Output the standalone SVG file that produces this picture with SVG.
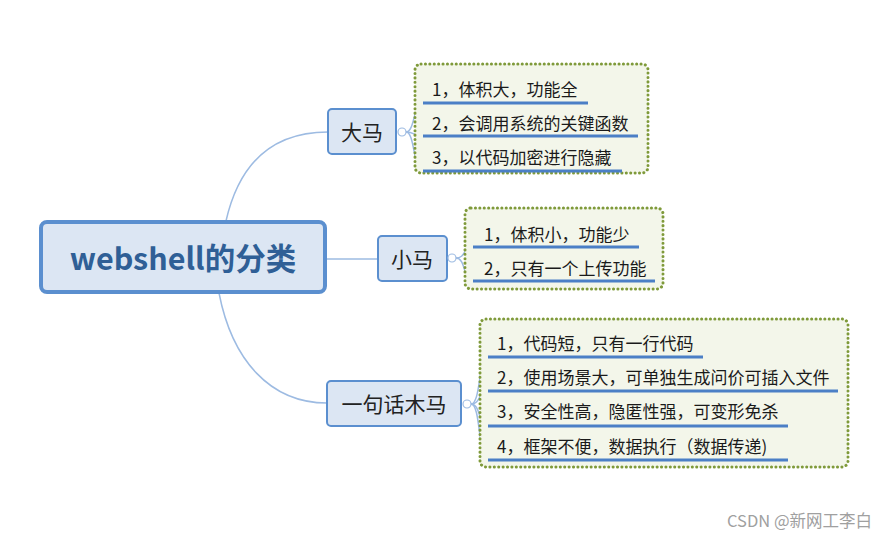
<svg xmlns="http://www.w3.org/2000/svg" width="883" height="552" viewBox="0 0 883 552">
<style>
.bg{fill:#ffffff}
.node{fill:#dce6f3;stroke:#5b8fcf;stroke-width:2}
.root{fill:#dce6f3;stroke:#5b8fcf;stroke-width:4}
.ntext{font-family:"Noto Sans CJK SC","Microsoft YaHei",sans-serif;font-size:21px;fill:#222;text-anchor:middle;dominant-baseline:central}
.rtext{font-family:"Noto Sans CJK SC",sans-serif;font-size:30.5px;font-weight:bold;fill:#2f5f96;text-anchor:middle;dominant-baseline:central}
.group{fill:#f3f6ea;stroke:#7f9a3a;stroke-width:3;stroke-dasharray:0.1 4.3;stroke-linecap:round}
.itext{font-family:"Noto Sans CJK SC",sans-serif;font-size:17px;fill:#1a1a1a;dominant-baseline:central}
.ul{stroke:#4b7fc6;stroke-width:3;fill:none}
.conn{fill:none;stroke:#9dbbe2;stroke-width:1.5}
.knob{fill:#ffffff;stroke:#9dbbe2;stroke-width:1.2}
.wm{font-family:"Noto Sans CJK SC",sans-serif;font-size:16.5px;fill:#a0a0a0}
</style>
<rect class="bg" x="0" y="0" width="883" height="552"/>
<g id="connectors">
<path class="conn" d="M226,221 C240,160 275,132 328,132"/>
<path class="conn" d="M326,259 L378,259"/>
<path class="conn" d="M219,293 C232,360 270,403 327,403"/>
<path class="conn" d="M406,132 C415,132 413,103 423,103"/>
<path class="conn" d="M406,132 C415,132 413,136 423,136"/>
<path class="conn" d="M406,132 C415,132 413,171 423,171"/>
<path class="conn" d="M456,258 C466,258 463,247 473,247"/>
<path class="conn" d="M456,258 C466,258 463,281 473,281"/>
<path class="conn" d="M471,404 C481,404 478,357 488,357"/>
<path class="conn" d="M471,404 C481,404 478,391 488,391"/>
<path class="conn" d="M471,404 C481,404 478,426 488,426"/>
<path class="conn" d="M471,404 C481,404 478,460 488,460"/>
</g>
<g id="root">
<rect class="root" x="41" y="222" width="284" height="70" rx="6"/>
<text class="rtext" x="183" y="257">webshell的分类</text>
</g>
<g id="dama">
<rect class="node" x="328" y="109" width="68" height="45" rx="4"/>
<text class="ntext" x="362" y="131">大马</text>
<circle class="knob" cx="402" cy="132" r="4"/>
</g>
<g id="xiaoma">
<rect class="node" x="378" y="236" width="69" height="45" rx="4"/>
<text class="ntext" x="412" y="258">小马</text>
<circle class="knob" cx="452" cy="258" r="4"/>
</g>
<g id="yijuhua">
<rect class="node" x="327" y="381" width="134" height="45" rx="4"/>
<text class="ntext" x="394" y="403">一句话木马</text>
<circle class="knob" cx="467" cy="404" r="4"/>
</g>
<g id="dama-details">
<rect class="group" x="415" y="64" width="233" height="109" rx="6"/>
<text class="itext" x="432" y="88">1，体积大，功能全</text>
<line class="ul" x1="423" y1="103" x2="588" y2="103"/>
<text class="itext" x="432" y="122">2，会调用系统的关键函数</text>
<line class="ul" x1="423" y1="136" x2="638" y2="136"/>
<text class="itext" x="432" y="156">3，以代码加密进行隐藏</text>
<line class="ul" x1="423" y1="171" x2="622" y2="171"/>
</g>
<g id="xiaoma-details">
<rect class="group" x="465" y="208" width="198" height="81" rx="6"/>
<text class="itext" x="484" y="233">1，体积小，功能少</text>
<line class="ul" x1="473" y1="247" x2="639" y2="247"/>
<text class="itext" x="484" y="267">2，只有一个上传功能</text>
<line class="ul" x1="473" y1="281" x2="655" y2="281"/>
</g>
<g id="yijuhua-details">
<rect class="group" x="480" y="319" width="368" height="148" rx="6"/>
<text class="itext" x="497" y="342">1，代码短，只有一行代码</text>
<line class="ul" x1="488" y1="357" x2="703" y2="357"/>
<text class="itext" x="497" y="376">2，使用场景大，可单独生成问价可插入文件</text>
<line class="ul" x1="488" y1="391" x2="838" y2="391"/>
<text class="itext" x="497" y="410">3，安全性高，隐匿性强，可变形免杀</text>
<line class="ul" x1="488" y1="426" x2="788" y2="426"/>
<text class="itext" x="497" y="445">4，框架不便，数据执行（数据传递)</text>
<line class="ul" x1="488" y1="460" x2="788" y2="460"/>
</g>
<text class="wm" x="727" y="527">CSDN @新网工李白</text>
</svg>
